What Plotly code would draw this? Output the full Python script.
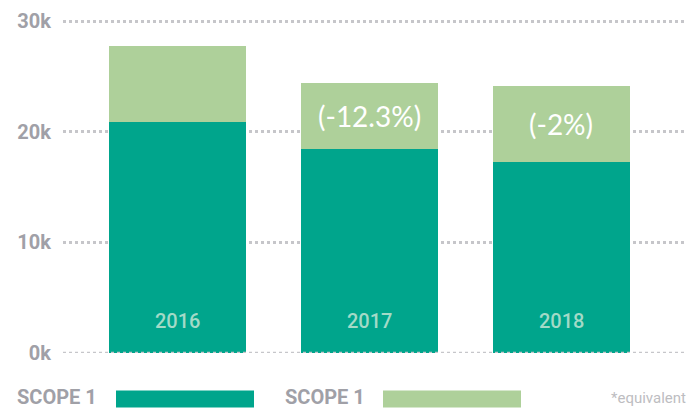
import plotly.graph_objects as go

# ---- data ----
years = ["2016", "2017", "2018"]
scope1_values = [20900, 18430, 17260]
scope2_values = [6870, 5990, 6890]
change_labels = ["", "(-12.3%)", "(-2%)"]
series_names = ["SCOPE 1", "SCOPE 1"]
tick_vals = [0, 10000, 20000, 30000]
tick_text = ["0k", "10k", "20k", "30k"]
footnote = "*equivalent"

DARK = "#00a58c"
LIGHT = "#aed09a"
GRAY = "#a0a0a7"
GRID = "#c6c6ca"

PX_PER_UNIT = 332 / 30000
PLOT_H = 332 + 100 * PX_PER_UNIT

fig = go.Figure()
fig.add_trace(go.Bar(x=years, y=scope1_values, name=series_names[0],
                     marker=dict(color=DARK, line=dict(width=0)), showlegend=False))
fig.add_trace(go.Bar(x=years, y=scope2_values, name=series_names[1],
                     marker=dict(color=LIGHT, line=dict(width=0)), showlegend=False))

annotations = []
# year labels inside bars
for i, yr in enumerate(years):
    annotations.append(dict(x=i, y=0, xref="x", yref="y", text=yr, showarrow=False,
                            yanchor="bottom", yshift=18,
                            font=dict(family="Roboto", size=20, color="#a3dac7", weight=500)))
# percent change labels centred in the light segments
for i, (a, b, lab) in enumerate(zip(scope1_values, scope2_values, change_labels)):
    if lab:
        annotations.append(dict(x=i, y=a + b / 2, xref="x", yref="y", text=lab,
                                showarrow=False, yanchor="middle",
                                font=dict(family="Lato", size=28, color="white", weight=400)))

# custom legend (pixel layout converted to paper coords)
def px_x(px):
    return (px - 63) / 624

def px_y(py):
    return (353.5 - py) / PLOT_H

legend_layout = [(16, 116, 254), (284, 383, 521)]
for (tx, r0, r1), name, col in zip(legend_layout, series_names, [DARK, LIGHT]):
    annotations.append(dict(x=px_x(tx), y=px_y(409), xref="paper", yref="paper",
                            xanchor="left", yanchor="bottom", text=name, showarrow=False,
                            borderpad=0, yshift=-2,
                            font=dict(family="Roboto", size=20, color=GRAY, weight="bold")))
annotations.append(dict(x=1, y=px_y(409), xref="paper", yref="paper", xanchor="right",
                        yanchor="bottom", text=footnote, showarrow=False, borderpad=0,
                        font=dict(family="Roboto", size=15, color="#bdbdc1")))

shapes = []
for (tx, r0, r1), col in zip(legend_layout, [DARK, LIGHT]):
    shapes.append(dict(type="rect", xref="paper", yref="paper",
                       x0=px_x(r0), x1=px_x(r1), y0=px_y(391), y1=px_y(408),
                       fillcolor=col, line=dict(width=0), layer="above"))
# dotted baseline drawn over the bars
shapes.append(dict(type="line", xref="paper", yref="y", x0=0, x1=1, y0=0, y1=0,
                   line=dict(color=GRID, width=2.5, dash="dot"), layer="above"))

fig.update_layout(
    width=687, height=409,
    margin=dict(l=63, r=0, t=409 - 55.5 - PLOT_H, b=55.5),
    barmode="stack", bargap=0.286,
    plot_bgcolor="white", paper_bgcolor="white",
    xaxis=dict(type="category", range=[-0.596, 2.654], showticklabels=False, showgrid=False,
               zeroline=False, showline=False, ticks=""),
    yaxis=dict(range=[0, 30100], tickvals=tick_vals, ticktext=tick_text,
               showgrid=True, gridcolor=GRID, gridwidth=2.5, griddash="dot",
               zeroline=False, showline=False, ticks="", ticklabelstandoff=11,
               tickfont=dict(family="Roboto", size=20, color=GRAY, weight="bold")),
    annotations=annotations, shapes=shapes, showlegend=False,
)

fig.write_html("out.html")
